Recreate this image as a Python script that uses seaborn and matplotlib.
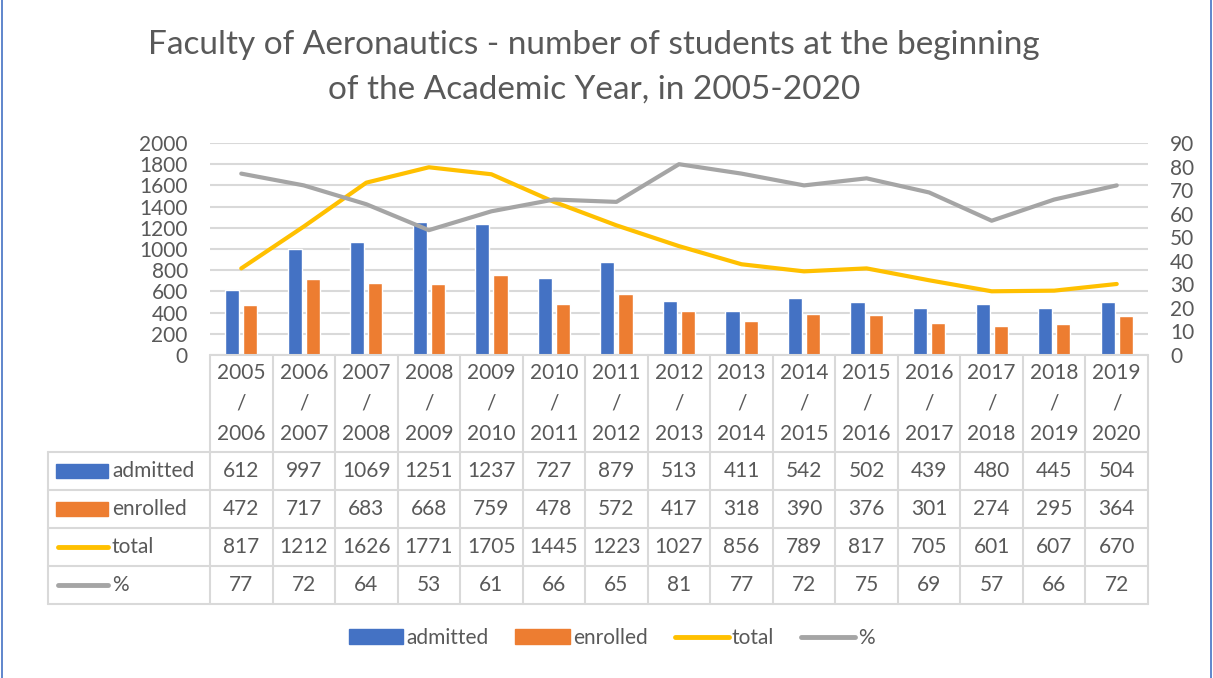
import numpy as np
import pandas as pd
import seaborn as sns
import matplotlib.pyplot as plt
from matplotlib.patches import Patch, Rectangle
from matplotlib.lines import Line2D

years = ["2005\n/\n2006", "2006\n/\n2007", "2007\n/\n2008", "2008\n/\n2009", "2009\n/\n2010",
         "2010\n/\n2011", "2011\n/\n2012", "2012\n/\n2013", "2013\n/\n2014", "2014\n/\n2015",
         "2015\n/\n2016", "2016\n/\n2017", "2017\n/\n2018", "2018\n/\n2019", "2019\n/\n2020"]
admitted = [612, 997, 1069, 1251, 1237, 727, 879, 513, 411, 542, 502, 439, 480, 445, 504]
enrolled = [472, 717, 683, 668, 759, 478, 572, 417, 318, 390, 376, 301, 274, 295, 364]
total = [817, 1212, 1626, 1771, 1705, 1445, 1223, 1027, 856, 789, 817, 705, 601, 607, 670]
pct = [77, 72, 64, 53, 61, 66, 65, 81, 77, 72, 75, 69, 57, 66, 72]

series_names = ["admitted", "enrolled", "total", "%"]
colors = {"admitted": "#4472C4", "enrolled": "#ED7D31", "total": "#FFC000", "%": "#A5A5A5"}
txt = "#595959"
grid = "#D9D9D9"
fs = 15

sns.set_theme(style="white")
plt.rcParams["font.family"] = ["Lato", "DejaVu Sans"]

W, H = 1213, 678
fig = plt.figure(figsize=(W / 100, H / 100), dpi=100)

# plot area in pixels: x 210..1148, y 143..355
x0, x1, y0, y1 = 210, 1148, 143, 355
ax = fig.add_axes([x0 / W, 1 - y1 / H, (x1 - x0) / W, (y1 - y0) / H])

df = pd.DataFrame({
    "year": years * 2,
    "series": ["admitted"] * len(years) + ["enrolled"] * len(years),
    "value": admitted + enrolled,
})
sns.barplot(data=df, x="year", y="value", hue="series", palette=colors, width=0.58, gap=0.22,
            saturation=1, legend=False, ax=ax, zorder=3)
xs = np.arange(len(years))
sns.lineplot(x=xs, y=total, color=colors["total"], lw=3, ax=ax, zorder=4,
             solid_capstyle="round", solid_joinstyle="round")
ax.set_xlim(-0.5, len(years) - 0.5)
ax.set_ylim(0, 2000)
ax.set_yticks(range(0, 2001, 200))
ax.set_xticks([])
ax.set_xlabel("")
ax.set_ylabel("")
ax.grid(axis="y", color=grid, lw=1.5, zorder=0)
ax.set_axisbelow(True)
for s in ax.spines.values():
    s.set_visible(False)
ax.tick_params(axis="y", length=0, pad=16, labelsize=fs, labelcolor=txt)

ax2 = ax.twinx()
sns.lineplot(x=xs, y=pct, color=colors["%"], lw=3, ax=ax2,
             solid_capstyle="round", solid_joinstyle="round")
ax2.set_ylim(0, 90)
ax2.set_yticks(range(0, 91, 10))
ax2.set_ylabel("")
for s in ax2.spines.values():
    s.set_visible(False)
ax2.tick_params(axis="y", length=0, pad=16, labelsize=fs, labelcolor=txt)
ax2.set_xlim(-0.5, len(years) - 0.5)

# data table below the plot area
t_bot = 604
tab = fig.add_axes([x0 / W, 1 - t_bot / H, (x1 - x0) / W, (t_bot - y1) / H])
tab.set_xlim(-0.5, len(years) - 0.5)
tab.set_ylim(t_bot, y1)
tab.axis("off")
unit = (x1 - x0) / len(years)


def px2x(p):
    return -0.5 + (p - x0) / unit


left = px2x(48)
row_edges = [452, 490, 528, 566, 604]
lk = dict(color=grid, lw=1.5, clip_on=False)
for i in range(len(years) + 1):
    tab.plot([i - 0.5, i - 0.5], [y1, t_bot], **lk)
tab.plot([-0.5, len(years) - 0.5], [y1, y1], **lk)
for r in row_edges:
    tab.plot([left, len(years) - 0.5], [r, r], **lk)
tab.plot([left, left], [row_edges[0], t_bot], **lk)

for i, lab in enumerate(years):
    tab.text(i, (y1 + row_edges[0]) / 2, lab, ha="center", va="center", fontsize=fs,
             color=txt, linespacing=1.63)

rows = [admitted, enrolled, total, pct]
for k, (name, vals) in enumerate(zip(series_names, rows)):
    yc = (row_edges[k] + row_edges[k + 1]) / 2
    for i, v in enumerate(vals):
        tab.text(i, yc, str(v), ha="center", va="center", fontsize=fs, color=txt)
    if k < 2:
        tab.add_patch(Rectangle((px2x(56), yc - 7), px2x(108) - px2x(56), 14,
                                color=colors[name], clip_on=False))
    else:
        tab.plot([px2x(58), px2x(108)], [yc, yc], color=colors[name], lw=3.5,
                 solid_capstyle="round", clip_on=False)
    tab.text(px2x(112), yc, name, ha="left", va="center", fontsize=fs, color=txt)

fig.suptitle("Faculty of Aeronautics - number of students at the beginning\n"
             "of the Academic Year, in 2005-2020", x=594 / W, y=1 - 30 / H, va="top",
             fontsize=24, color=txt, linespacing=1.62)

handles = [Patch(color=colors["admitted"]), Patch(color=colors["enrolled"]),
           Line2D([], [], color=colors["total"], lw=3.5, solid_capstyle="round"),
           Line2D([], [], color=colors["%"], lw=3.5, solid_capstyle="round")]
leg = fig.legend(handles, series_names, loc="center", bbox_to_anchor=(612 / W, 1 - 638 / H),
                 ncol=4, frameon=False, fontsize=fs, handlelength=2.6, handletextpad=0.15,
                 columnspacing=1.3, labelcolor=txt)

fig.add_artist(Line2D([2 / W, 2 / W], [0, 1], color="#4472C4", lw=1.2))
fig.add_artist(Line2D([1 - 2 / W, 1 - 2 / W], [0, 1], color="#4472C4", lw=1.2))

fig.savefig("out.png", dpi=100, facecolor="white")
